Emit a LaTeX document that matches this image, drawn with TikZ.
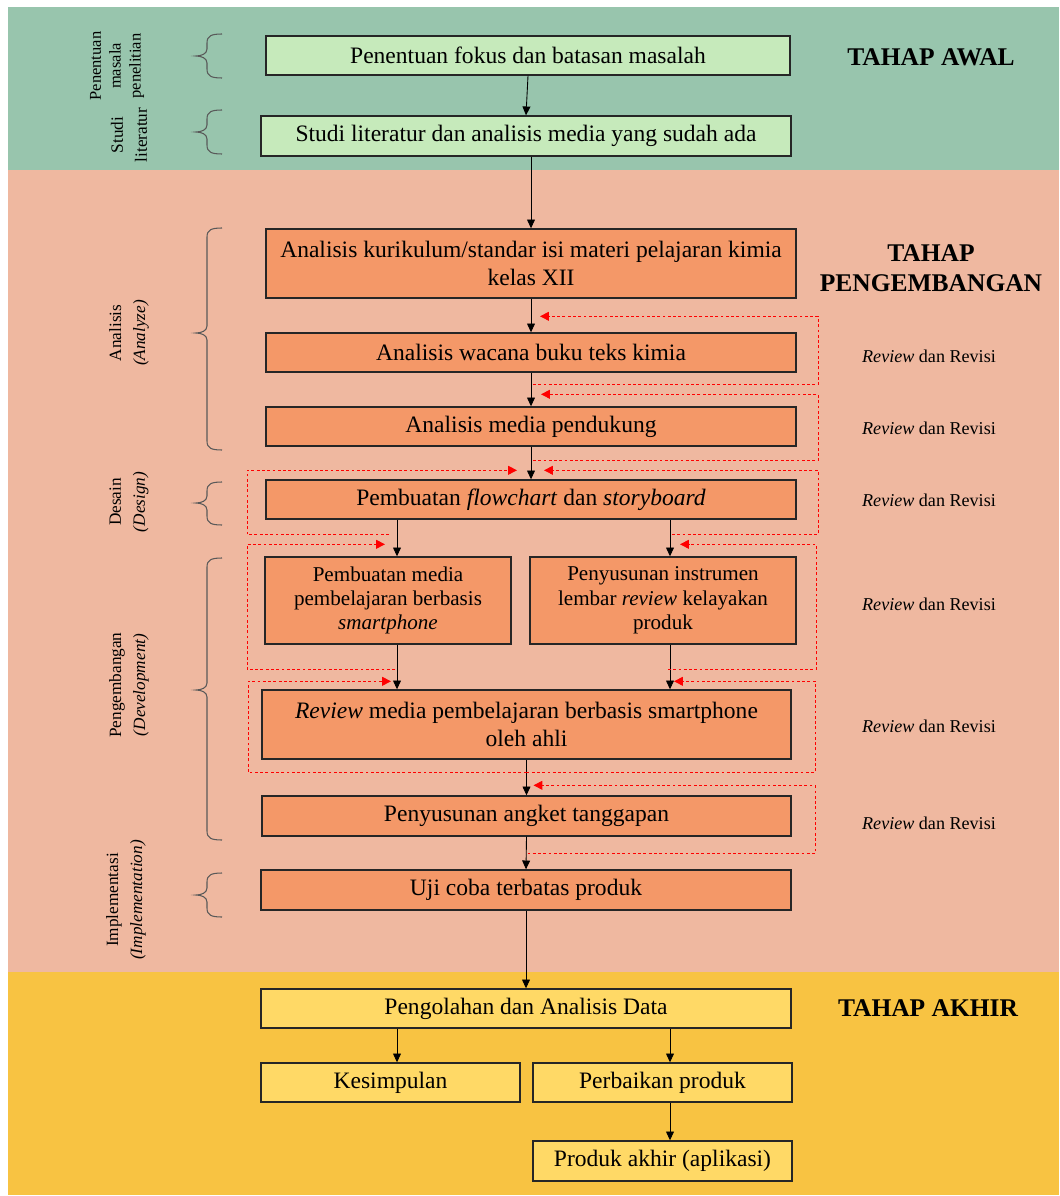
\documentclass[tikz,border=0pt]{standalone}
\usepackage{fontspec}
\setmainfont{Liberation Serif}
\usepackage{xcolor}
\usepackage{tikz}
\usetikzlibrary{
  positioning,
  calc,
  arrows.meta
}
\definecolor{bandawal}{HTML}{98C5AD}
\definecolor{bandkembang}{HTML}{EFB8A0}
\definecolor{bandakhir}{HTML}{F8C342}
\definecolor{boxawal}{HTML}{C6EABB}
\definecolor{boxkembang}{HTML}{F49868}
\definecolor{boxakhir}{HTML}{FFD966}

\begin{document}
\begin{tikzpicture}[x=0.02cm, y=-0.02cm,
    box/.style={draw=black!85, line width=0.8pt, align=center, inner sep=2pt,
      minimum height=0.78cm, font=\fontsize{13.4}{15.6}\selectfont},
    small/.style={font=\fontsize{12}{13.9}\selectfont},
    arr/.style={-{Triangle[length=5pt,width=4.5pt]}, line width=0.5pt},
    fb/.style={red, line width=0.5pt, dash pattern=on 1.6pt off 1.4pt,
      -{Triangle[length=5pt,width=5pt]}},
    side/.style={rotate=90, align=center, font=\fontsize{9.8}{13.6}\selectfont},
    brc/.style={draw=black!65, line width=0.6pt},
    title/.style={align=center, font=\bfseries\fontsize{14.5}{17}\selectfont},
    rev/.style={font=\fontsize{10.3}{12}\selectfont}]
      \useasboundingbox (0,0) rectangle (1059,1196);

      % Bands
      \fill[bandawal] (8,7) rectangle (1059,170);
      \fill[bandkembang] (8,170) rectangle (1059,972);
      \fill[bandakhir] (8,972) rectangle (1059,1195);

      % Tahap awal
      \node[box, fill=boxawal, minimum width=10.48cm] (b1) at (528,55.5) {Penentuan fokus dan batasan masalah};
      \node[box, fill=boxawal, minimum width=10.6cm, minimum height=0.8cm] (b2) at (526,136) {Studi literatur dan analisis media yang sudah ada};

      % Tahap pengembangan
      \node[box, fill=boxkembang, minimum width=10.6cm, minimum height=1.38cm] (b3) at (531,263.5)
        {Analisis kurikulum/standar isi materi pelajaran kimia\\kelas XII};
      \node[box, fill=boxkembang, minimum width=10.6cm] (b4) at (531,352.5) {Analisis wacana buku teks kimia};
      \node[box, fill=boxkembang, minimum width=10.6cm] (b5) at (531,426.5) {Analisis media pendukung};
      \node[box, fill=boxkembang, minimum width=10.6cm] (b6) at (531,499.5)
        {Pembuatan \textit{flowchart} dan \textit{storyboard}};
      \node[box, small, fill=boxkembang, minimum width=4.92cm, minimum height=1.74cm] (b7) at (388,600.5)
        {Pembuatan media\\pembelajaran berbasis\\\textit{smartphone}};
      \node[box, small, fill=boxkembang, minimum width=5.32cm, minimum height=1.74cm] (b8) at (663,600.5)
        {Penyusunan instrumen\\lembar \textit{review} kelayakan\\produk};
      \node[box, fill=boxkembang, minimum width=10.58cm, minimum height=1.38cm] (b9) at (526.5,724.5)
        {\textit{Review} media pembelajaran berbasis smartphone\\oleh ahli};
      \node[box, fill=boxkembang, minimum width=10.58cm, minimum height=0.8cm] (b10) at (526.5,816) {Penyusunan angket tanggapan};
      \node[box, fill=boxkembang, minimum width=10.6cm, minimum height=0.8cm] (b11) at (526,890) {Uji coba terbatas produk};

      % Tahap akhir
      \node[box, fill=boxakhir, minimum width=10.6cm] (b12) at (526,1008.5) {Pengolahan dan Analisis Data};
      \node[box, fill=boxakhir, minimum width=5.18cm] (b13) at (390.5,1082.5) {Kesimpulan};
      \node[box, fill=boxakhir, minimum width=5.18cm] (b14) at (662.5,1082.5) {Perbaikan produk};
      \node[box, fill=boxakhir, minimum width=5.18cm, minimum height=0.8cm] (b15) at (662.5,1161) {Produk akhir (aplikasi)};

      % Titles
      \node[title] (t1) at (931,57) {TAHAP AWAL};
      \node[title] (t2) at (931,268) {TAHAP\\PENGEMBANGAN};
      \node[title] (t3) at (928,1008) {TAHAP AKHIR};

      % Review dan Revisi
      \foreach \y/\n in {356/r1, 428/r2, 500/r3, 604/r4, 726/r5, 823/r6} {
        \node[rev] (\n) at (929,\y) {\textit{Review} dan Revisi};
      }

      % Side labels and braces
      \node[side, font=\fontsize{9.4}{11.3}\selectfont] (s1) at (117,66) {Penentuan\\masala\\penelitian};
      \node[side] (s2) at (129,135) {Studi\\literatur};
      \node[side] (s3) at (129,333) {Analisis\\\textit{(Analyze)}};
      \node[side] (s4) at (129,502) {Desain\\\textit{(Design)}};
      \node[side] (s5) at (129,685) {Pengembangan\\\textit{(Development)}};
      \node[side] (s6) at (126,900) {Implementasi\\\textit{(Implementation)}};
      \foreach \ya/\yt/\yb in {34/56/78, 110/132/154, 228/333/450, 482/503/525, 558/690/840, 873/895/917} {
        \draw[brc] (222,\ya) .. controls (211,\ya) and (207,\ya+2) .. (207,\ya+9)
          -- (207,\yt-7) .. controls (207,\yt-2) and (201,\yt) .. (196,\yt)
          .. controls (201,\yt) and (207,\yt+2) .. (207,\yt+7)
          -- (207,\yb-9) .. controls (207,\yb-2) and (211,\yb) .. (222,\yb);
      }

      % Flow
      \coordinate (cl) at (397,0);
      \coordinate (cr) at (670,0);
      \coordinate (lx) at (247,0);
      \coordinate (rx) at (818,0);
      \draw[arr] (b1.south) -- (b2.north);
      \draw[arr] (b2.south -| b3.north) -- (b3.north);
      \draw[arr] (b3.south) -- (b4.north);
      \draw[arr] (b4.south) -- (b5.north);
      \draw[arr] (b5.south) -- (b6.north);
      \draw[arr] (b6.south -| cl) -- (b7.north -| cl);
      \draw[arr] (b6.south -| cr) -- (b8.north -| cr);
      \draw[arr] (b7.south -| cl) -- (b9.north -| cl);
      \draw[arr] (b8.south -| cr) -- (b9.north -| cr);
      \draw[arr] (b9.south) -- (b10.north);
      \draw[arr] (b10.south) -- (b11.north);
      \draw[arr] (b11.south) -- (b12.north);
      \draw[arr] (b12.south -| cl) -- (b13.north -| cl);
      \draw[arr] (b12.south -| cr) -- (b14.north -| cr);
      \draw[arr] (b14.south -| cr) -- (b15.north -| cr);

      % Review loops
      \draw[fb] ($(b4.south)+(2,12)$) -| ($(b4.north -| rx)+(0,-16)$) -- ($(b4.north)+(9,-16)$);
      \draw[fb] ($(b5.south)+(2,14)$) -| ($(b5.north -| rx)+(0,-12)$) -- ($(b5.north)+(10,-12)$);
      \draw[fb] ($(b6.south -| cl)+(-8,15)$) -| ($(b6.north -| lx)+(0,-9)$) -- ($(b6.north)+(-14,-9)$);
      \draw[fb] ($(b6.south -| cr)+(2,15)$) -| ($(b6.north -| rx)+(0,-9)$) -- ($(b6.north)+(13,-9)$);
      \draw[fb] ($(b7.south -| cl)+(-2,25)$) -| ($(b7.north -| lx)+(0,-12)$) -- ($(b7.north -| cl)+(-12,-12)$);
      \draw[fb] ($(b8.south -| cr)+(-2,25)$) -| ($(b8.north -| rx)+(-2,-12)$) -- ($(b8.north -| cr)+(10,-12)$);
      \draw[fb] ($(b9.south)+(0,13)$) -| ($(b9.north -| lx)+(1,-8)$) -- ($(b9.north -| cl)+(-6,-8)$);
      \draw[fb] ($(b9.south)+(0,13)$) -| ($(b9.north -| rx)+(-3,-8)$) -- ($(b9.north -| cr)+(4,-8)$);
      \draw[fb] ($(b10.south)+(1,17)$) -| ($(b10.north -| rx)+(-3,-10)$) -- ($(b10.north)+(7,-10)$);
    \end{tikzpicture}
\end{document}
